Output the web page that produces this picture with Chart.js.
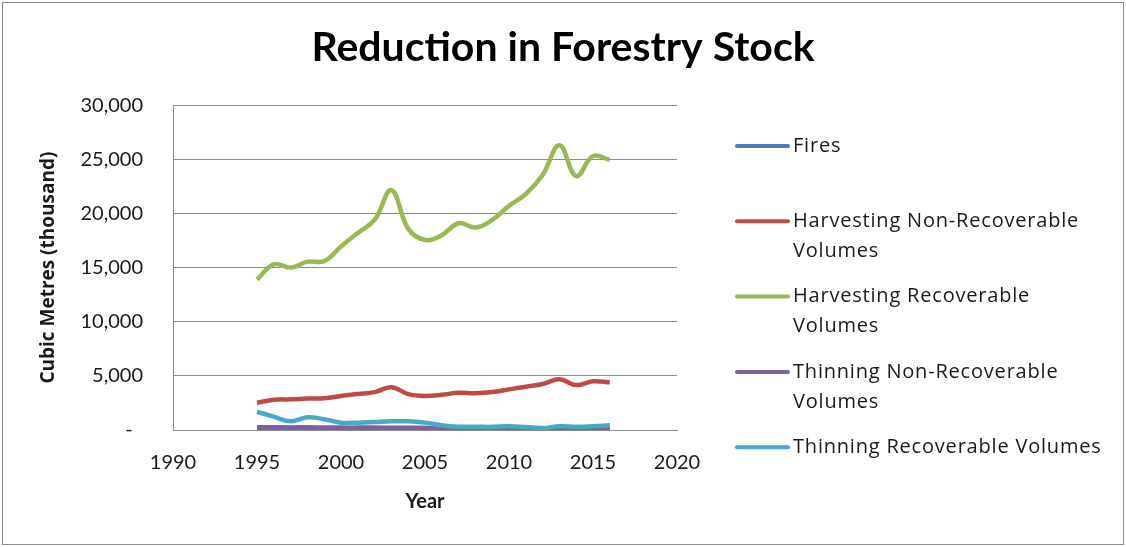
<!DOCTYPE html>
<html>
<head>
<meta charset="utf-8">
<script src="https://cdn.jsdelivr.net/npm/chart.js@4"></script>
<style>
  html, body { margin: 0; padding: 0; background: #fff; }
  #wrap { width: 1126px; height: 547px; position: relative; }
</style>
</head>
<body>
<div id="wrap"><canvas id="forestChart" width="1126" height="547"></canvas></div>
<script>
    // ======== Data ========
    const years = [1995,1996,1997,1998,1999,2000,2001,2002,2003,2004,2005,2006,2007,2008,2009,2010,2011,2012,2013,2014,2015,2016];
    const seriesNames = ['Fires', 'Harvesting Non-Recoverable Volumes', 'Harvesting Recoverable Volumes',
                         'Thinning Non-Recoverable Volumes', 'Thinning Recoverable Volumes'];
    const fires = [40,30,30,20,30,20,20,30,20,20,30,20,20,20,20,20,20,20,20,20,20,20];
    const harvestNonRec = [2520,2800,2830,2900,2930,3150,3320,3500,3940,3320,3150,3250,3430,3390,3500,3750,4000,4250,4680,4150,4500,4400];
    const harvestRec = [13900,15300,15000,15550,15600,16950,18200,19400,22150,18600,17550,18000,19100,18700,19400,20700,21800,23550,26300,23450,25300,24950];
    const thinNonRec = [250,250,240,250,230,220,220,220,210,210,200,120,90,80,70,70,60,60,70,60,60,60];
    const thinRec = [1680,1230,800,1170,990,680,680,740,800,800,680,430,300,300,290,350,270,180,350,300,350,430];
    const colors = ['#4A7EBB', '#BE4B48', '#98B954', '#7D60A0', '#46AAC5'];
    const yTicks = [0, 5000, 10000, 15000, 20000, 25000, 30000];
    const xTicks = [1990, 1995, 2000, 2005, 2010, 2015, 2020];

    const allSeries = [fires, harvestNonRec, harvestRec, thinNonRec, thinRec];
    const FONT = 'Lato, "Open Sans", sans-serif';
    const WIDE = '"Open Sans", Lato, sans-serif';
    const TEXT = '#1a1a1a';
    const GRID = '#8c8c8c';

    // ======== Plugins ========
    // outer frame like the Excel chart border
    const framePlugin = {
      id: 'frame',
      beforeDraw(chart) {
        const c = chart.ctx;
        c.save();
        c.fillStyle = '#fff';
        c.fillRect(0, 0, chart.width, chart.height);
        c.strokeStyle = '#8a8a8a';
        c.lineWidth = 1;
        c.strokeRect(2.5, 2.5, chart.width - 5, chart.height - 5);
        c.restore();
      }
    };

    // legend on the right with wrapped labels
    const wrapLegend = {
      id: 'wrapLegend',
      afterDraw(chart) {
        const c = chart.ctx;
        const area = chart.chartArea;
        const x0 = area.right + 60, x1 = x0 + 51, tx = x1 + 5;
        const maxW = 318;
        c.save();
        c.font = '20px ' + WIDE;
        c.letterSpacing = '0.8px';
        c.textBaseline = 'middle';
        c.fillStyle = TEXT;
        chart.data.datasets.forEach((ds, i) => {
          const y = 146 + i * 75.3;
          c.strokeStyle = ds.borderColor;
          c.lineWidth = 4;
          c.lineCap = 'round';
          c.beginPath(); c.moveTo(x0, y); c.lineTo(x1, y); c.stroke();
          // wrap words
          const words = ds.label.split(' ');
          let line = '', lines = [];
          words.forEach(w => {
            const test = line ? line + ' ' + w : w;
            if (c.measureText(test).width > maxW && line) { lines.push(line); line = w; }
            else line = test;
          });
          lines.push(line);
          lines.forEach((t, k) => c.fillText(t, tx, y + k * 30));
        });
        c.restore();
      }
    };

    // ======== Chart ========
    const ctx = document.getElementById('forestChart').getContext('2d');
    const chart = new Chart(ctx, {
      type: 'line',
      data: {
        datasets: allSeries.map((vals, i) => ({
          label: seriesNames[i],
          data: years.map((y, k) => ({ x: y, y: vals[k] })),
          borderColor: colors[i],
          backgroundColor: colors[i],
          borderWidth: 4.5,
          pointRadius: 0,
          tension: 0.4,
          fill: false,
          order: 5 - i
        }))
      },
      options: {
        responsive: false,
        animation: false,
        devicePixelRatio: 1,
        layout: { padding: 0 },
        plugins: {
          legend: { display: false },
          tooltip: { enabled: false },
          title: {
            display: true,
            text: 'Reduction in Forestry Stock',
            color: '#000',
            font: { family: FONT, size: 41, weight: 'bold', lineHeight: 1.2 },
            padding: { top: 23, bottom: 33 }
          }
        },
        scales: {
          x: {
            type: 'linear',
            min: 1990, max: 2020,
            afterBuildTicks: s => { s.ticks = xTicks.map(v => ({ value: v })); },
            afterFit: s => { s.height = 117; },
            ticks: { color: TEXT, font: { family: FONT, size: 20 }, padding: 21, maxRotation: 0,
                     callback: v => String(v) },
            grid: { display: false, drawTicks: false },
            border: { display: true, color: GRID, width: 1 },
            title: { display: true, text: 'Year', color: TEXT,
                     font: { family: FONT, size: 20, weight: 'bold', lineHeight: 1.2 },
                     padding: { top: 0, bottom: 33 } }
          },
          y: {
            min: 0, max: 30000,
            afterBuildTicks: s => { s.ticks = yTicks.map(v => ({ value: v })); },
            afterFit: s => { s.width = 173; },
            ticks: { color: TEXT, font: { family: FONT, size: 20 }, padding: 30,
                     callback: v => v === 0 ? '-  ' : v.toLocaleString('en-US') },
            grid: { color: GRID, lineWidth: 1, drawTicks: false },
            border: { display: true, color: GRID, width: 1 },
            title: { display: true, text: 'Cubic Metres (thousand)', color: TEXT,
                     font: { family: WIDE, size: 19, weight: 'bold', lineHeight: 1.2 },
                     padding: { top: 37, bottom: 0 } }
          },
          pad: {
            type: 'linear', position: 'right', display: true,
            afterFit: s => { s.width = 449; },
            ticks: { display: false },
            grid: { display: false, drawTicks: false },
            border: { display: false }
          }
        }
      },
      plugins: [framePlugin, wrapLegend]
    });
</script>
</body>
</html>
